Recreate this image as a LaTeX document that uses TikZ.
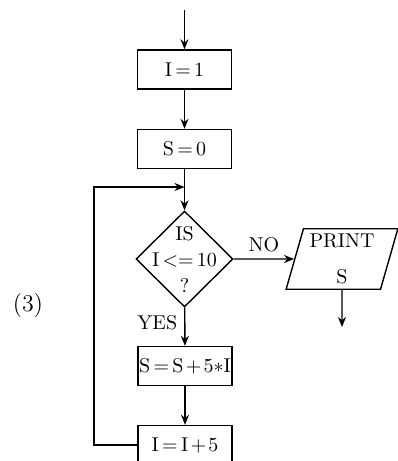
\documentclass[tikz,border=0pt]{standalone}
\usepackage{amsmath}
\usetikzlibrary{shapes.geometric}
\usetikzlibrary{arrows.meta}
\thickmuskip=3mu
\medmuskip=2mu

\tikzset{
  procbox/.style={draw, minimum width=47pt, minimum height=19.5pt, inner sep=0pt},
  decision/.style={diamond, draw, aspect=1, minimum width=48.5pt, minimum height=48pt, inner sep=0pt},
  iobox/.style={trapezium, draw, trapezium left angle=74, trapezium right angle=106, minimum width=56pt, minimum height=29.5pt, inner sep=1pt, align=center},
  flow/.style={-{Stealth[length=5pt, width=4pt]}}
}

\begin{document}
\begin{tikzpicture}[x=0.5pt, y=-0.5pt, line width=0.7pt]
\useasboundingbox (0,0) rectangle (397,461);
\coordinate (start) at (184.5,10);
\node (i1) [procbox] at (184.5,69.5) {$\mathrm{I}=1$};
\node (s0) [procbox] at (184.5,149) {$\mathrm{S}=0$};
\coordinate (join) at (184.5,187);
\node (test) [decision] at (184.5,259) {};
\node (testtxt) [align=center] at (test) {IS\\[1pt]$\mathrm{I}<=10$\\[1pt]?};
\node (prt) [iobox] at (342,259) {PRINT\\[6pt]S};
\coordinate (out) at (342,327);
\node (upd) [procbox] at (185,366) {$\mathrm{S}=\mathrm{S}+5{*}\mathrm{I}$};
\node (inc) [procbox] at (185,445) {$\mathrm{I}=\mathrm{I}+5$};
\coordinate (back) at (94,187);
\node (num) at (28,306) {\large (3)};
% main line
\draw [flow] (start) -- (i1);
\draw [flow] (i1) -- (s0);
\draw [flow] (s0) -- (test);
\draw [flow] (test) -- (prt) node [midway, above] {NO};
\draw [flow] (prt.south) -- (out);
\draw [flow] (test) -- (upd);
\node [below left] at (test.south) {YES};
\draw [flow] (upd) -- (inc);
% loop back
\draw [flow] (inc.west) -| (back) -- (join);
\end{tikzpicture}
\end{document}
